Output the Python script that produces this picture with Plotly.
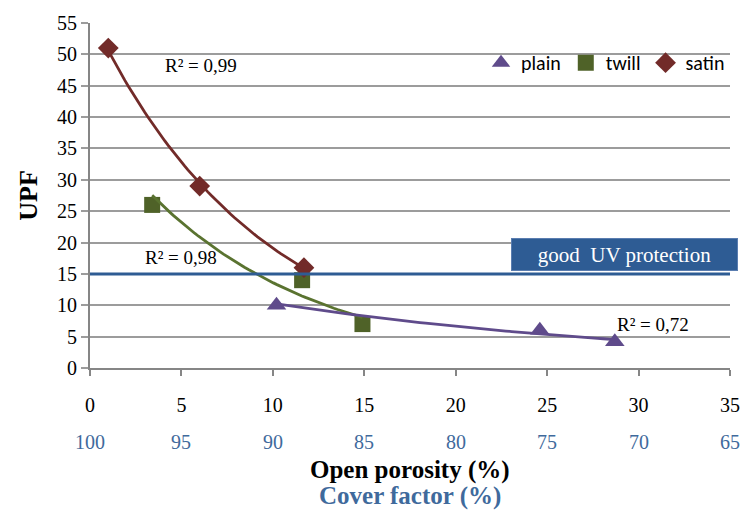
import numpy as np
import plotly.graph_objects as go

# ---- data ----
plain_x = [10.2, 24.6, 28.7]
plain_y = [10.0, 6.0, 4.2]
twill_x = [3.4, 11.6, 14.9]
twill_y = [26.0, 14.0, 7.0]
satin_x = [1.0, 6.0, 11.7]
satin_y = [51.0, 29.0, 16.0]
r2_labels = {"satin": "R² = 0,99", "twill": "R² = 0,98", "plain": "R² = 0,72"}
porosity_ticks = [0, 5, 10, 15, 20, 25, 30, 35]
cover_ticks = [100, 95, 90, 85, 80, 75, 70, 65]
upf_threshold = 15

SERIF = "Palatino Linotype, Book Antiqua, Liberation Serif, DejaVu Serif, serif"
SANS = "Calibri, Carlito, Lato, Open Sans, sans-serif"

C_PLAIN = "#5F4B8B"
C_TWILL = "#4F6228"
C_TWILL_LINE = "#5A7330"
C_SATIN = "#722B29"
C_BLUE = "#2E5C94"
C_BLUE_TXT = "#3F6A9C"


def exp_trend(xs, ys, n=60):
    xs = np.asarray(xs, float)
    ys = np.asarray(ys, float)
    b, a = np.polyfit(xs, np.log(ys), 1)
    xx = np.linspace(xs.min(), xs.max(), n)
    return xx, np.exp(a + b * xx)


fig = go.Figure()

fig.add_trace(go.Scatter(x=plain_x, y=plain_y, mode="markers", name="plain",
                         marker=dict(symbol="triangle-up", size=17, color=C_PLAIN)))
fig.add_trace(go.Scatter(x=twill_x, y=twill_y, mode="markers", name="twill",
                         marker=dict(symbol="square", size=16, color=C_TWILL)))
fig.add_trace(go.Scatter(x=satin_x, y=satin_y, mode="markers", name="satin",
                         marker=dict(symbol="diamond", size=16, color=C_SATIN)))

for xs, ys, col in [(satin_x, satin_y, C_SATIN), (twill_x, twill_y, C_TWILL_LINE), (plain_x, plain_y, C_PLAIN)]:
    tx, ty = exp_trend(xs, ys)
    fig.add_trace(go.Scatter(x=tx, y=ty, mode="lines", line=dict(color=col, width=2.8),
                             showlegend=False, hoverinfo="skip"))

# threshold line
fig.add_shape(type="line", xref="paper", x0=0, x1=1, yref="y", y0=upf_threshold, y1=upf_threshold,
              line=dict(color=C_BLUE, width=3))

annotations = []
# R² labels
annotations.append(dict(x=4.0, y=48.2, xref="x", yref="y", text=r2_labels["satin"], showarrow=False,
                        xanchor="left", yanchor="middle", font=dict(family=SERIF, size=19, color="black")))
annotations.append(dict(x=2.9, y=17.6, xref="x", yref="y", text=r2_labels["twill"], showarrow=False,
                        xanchor="left", yanchor="middle", font=dict(family=SERIF, size=19, color="black")))
annotations.append(dict(x=28.7, y=7.0, xref="x", yref="y", text=r2_labels["plain"], showarrow=False,
                        xanchor="left", yanchor="middle", font=dict(family=SERIF, size=19, color="black")))
# good UV protection box
annotations.append(dict(x=1.0, y=18.05, xref="paper", yref="y", xanchor="right", yanchor="middle",
                        xshift=8, text="good  UV protection", showarrow=False,
                        font=dict(family=SERIF, size=21, color="white"),
                        bgcolor=C_BLUE, bordercolor="#5A7DB0", borderwidth=1,
                        width=223, height=29, align="center"))
# cover factor tick labels
for cf in cover_ticks:
    annotations.append(dict(x=100 - cf, y=-0.215, xref="x", yref="paper", text=str(cf), showarrow=False,
                            yanchor="middle",
                            font=dict(family=SERIF, size=20, color=C_BLUE_TXT)))
annotations.append(dict(x=0.5, y=-0.295, xref="paper", yref="paper", text="<b>Open porosity (%)</b>",
                        showarrow=False, yanchor="middle", font=dict(family=SERIF, size=25, color="black")))
annotations.append(dict(x=0.5, y=-0.37, xref="paper", yref="paper", text="<b>Cover factor (%)</b>",
                        showarrow=False, yanchor="middle", font=dict(family=SERIF, size=25, color=C_BLUE_TXT)))

fig.update_layout(
    width=752, height=515,
    margin=dict(l=90, r=16, t=16, b=147),
    paper_bgcolor="white", plot_bgcolor="white",
    showlegend=True,
    legend=dict(orientation="h", x=1.0, xanchor="right", y=0.885, yanchor="middle",
                font=dict(family=SANS, size=20, color="black"), bgcolor="rgba(0,0,0,0)",
                itemwidth=30, tracegroupgap=0),
    annotations=annotations,
    xaxis=dict(range=[0, 35], tickvals=porosity_ticks, ticktext=[str(t) for t in porosity_ticks],
               showgrid=False, zeroline=False, showline=True, linecolor="#868686", linewidth=2,
               ticks="outside", ticklen=6, tickcolor="#868686", tickwidth=2,
               ticklabelstandoff=12,
               tickfont=dict(family=SERIF, size=20, color="black")),
    yaxis=dict(range=[0, 55], tickvals=list(range(0, 56, 5)),
               showgrid=True, gridcolor="#9C9C9C", gridwidth=1.5, zeroline=False,
               showline=True, linecolor="#868686", linewidth=2,
               ticks="outside", ticklen=7, tickcolor="#9C9C9C", tickwidth=1.5,
               tickfont=dict(family=SERIF, size=20, color="black"),
               title=dict(text="<b>UPF</b>", font=dict(family=SERIF, size=26, color="black"), standoff=12)),
)

fig.write_html("out.html")
